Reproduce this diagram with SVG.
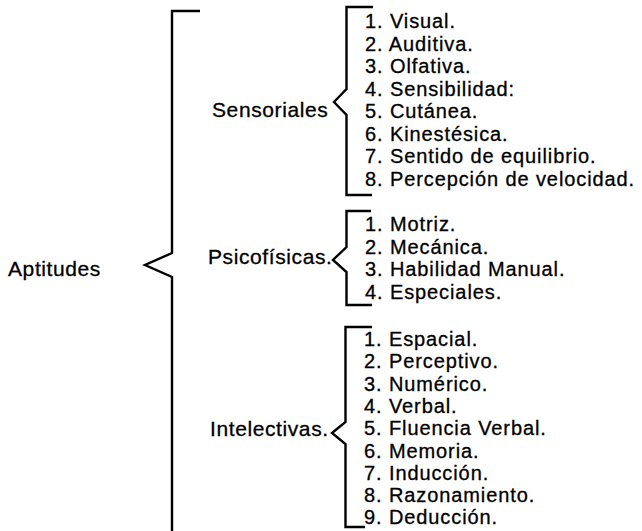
<svg xmlns="http://www.w3.org/2000/svg" width="642" height="531" viewBox="0 0 642 531">
<style>
.lbl{font-family:"Liberation Sans",Arial,sans-serif;font-size:21px;letter-spacing:0.6px;fill:#000;stroke:#000;stroke-width:0.3px}
.it{font-family:"Liberation Sans",Arial,sans-serif;font-size:20px;letter-spacing:0.9px;fill:#000;stroke:#000;stroke-width:0.3px}
.br{fill:none;stroke:#000;stroke-width:2.4;stroke-linejoin:miter}
</style>
<rect width="642" height="531" fill="#fff"/>
<g id="connectors">
<path class="br" d="M200,11 H172 V253 L145,265 L172,277 V531"/>
<path class="br" d="M373,7 H346.5 V89 L334,102 L346.5,115 V195 H372"/>
<path class="br" d="M371,211 H346.5 V247 L333,260 L346.5,272 V305 H372"/>
<path class="br" d="M372,327 H345.5 V422 L332,433 L345.5,444 V527 H365"/>
</g>
<g id="aptitudes"><text class="lbl" x="8" y="276">Aptitudes</text></g>
<g id="sensoriales">
<text class="lbl" x="212" y="117">Sensoriales</text>
<text class="it" x="365" y="28">1. Visual.</text>
<text class="it" x="365" y="50.5">2. Auditiva.</text>
<text class="it" x="365" y="73">3. Olfativa.</text>
<text class="it" x="365" y="95.5">4. Sensibilidad:</text>
<text class="it" x="365" y="118">5. Cutánea.</text>
<text class="it" x="365" y="140.5">6. Kinestésica.</text>
<text class="it" x="365" y="163">7. Sentido de equilibrio.</text>
<text class="it" x="365" y="185.5">8. Percepción de velocidad.</text>
</g>
<g id="psicofisicas">
<text class="lbl" x="208" y="264">Psicofísicas.</text>
<text class="it" x="365" y="231">1. Motriz.</text>
<text class="it" x="365" y="253.5">2. Mecánica.</text>
<text class="it" x="365" y="276">3. Habilidad Manual.</text>
<text class="it" x="365" y="298.5">4. Especiales.</text>
</g>
<g id="intelectivas">
<text class="lbl" x="210" y="436">Intelectivas.</text>
<text class="it" x="364" y="346">1. Espacial.</text>
<text class="it" x="364" y="368.3">2. Perceptivo.</text>
<text class="it" x="364" y="390.6">3. Numérico.</text>
<text class="it" x="364" y="412.9">4. Verbal.</text>
<text class="it" x="364" y="435.2">5. Fluencia Verbal.</text>
<text class="it" x="364" y="457.5">6. Memoria.</text>
<text class="it" x="364" y="479.8">7. Inducción.</text>
<text class="it" x="364" y="502.1">8. Razonamiento.</text>
<text class="it" x="364" y="524.4">9. Deducción.</text>
</g>
</svg>
